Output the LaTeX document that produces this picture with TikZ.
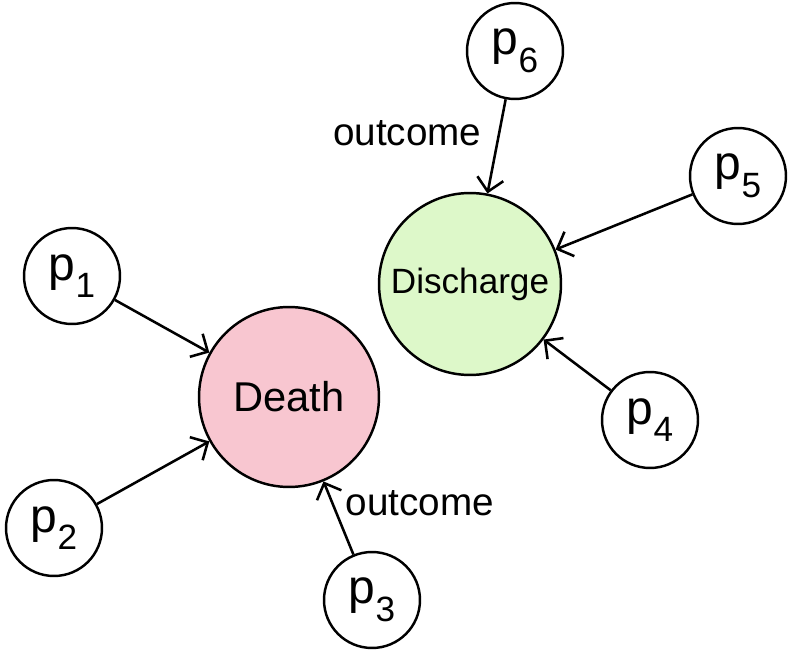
\documentclass[tikz,border=0pt]{standalone}
\usepackage{fontspec}
\setmainfont{Liberation Sans}
\usetikzlibrary{arrows.meta}
\definecolor{deathpink}{HTML}{F8C6D0}
\definecolor{dischgreen}{HTML}{DDF8C9}
\newcommand{\pvar}[1]{p\raisebox{-10pt}{\fontsize{20}{24}\selectfont #1}}

\begin{document}
\begin{tikzpicture}[x=0.02cm, y=-0.02cm,
    pbox/.style={circle, draw, line width=1.4pt, minimum size=1.92cm, inner sep=0pt,
      font=\fontsize{27.3}{30}\selectfont},
    target/.style={circle, draw, line width=1.4pt, inner sep=0pt},
    arr/.style={-{Straight Barb[length=7.5pt,width=15pt]}, line width=1.45pt},
    lab/.style={font=\fontsize{22}{26}\selectfont}]
  \useasboundingbox (0,0) rectangle (792,652);
  % outcomes
  \node[target, fill=deathpink, minimum size=3.6cm, font=\fontsize{23.7}{28}\selectfont] (death) at (289,397) {Death};
  \node[target, fill=dischgreen, minimum size=3.64cm, font=\fontsize{20}{24}\selectfont] (disch) at (470,284) {Discharge};
  % predictors
  \node[pbox] (p1) at (72,276) {\pvar{1}};
  \node[pbox] (p2) at (54,528) {\pvar{2}};
  \node[pbox] (p3) at (372,600) {\pvar{3}};
  \node[pbox] (p4) at (650,420) {\pvar{4}};
  \node[pbox] (p5) at (738,176) {\pvar{5}};
  \node[pbox] (p6) at (515,51) {\pvar{6}};
  \draw[arr] (p1) -- (death);
  \draw[arr] (p2) -- (death);
  \draw[arr] (p3) -- node[lab, pos=0.7, right=3.5pt] (out3) {outcome} (death);
  \draw[arr] (p4) -- (disch);
  \draw[arr] (p5) -- (disch);
  \draw[arr] (p6) -- node[lab, pos=0.36, left=6pt] (out6) {outcome} (disch);
\end{tikzpicture}
\end{document}
